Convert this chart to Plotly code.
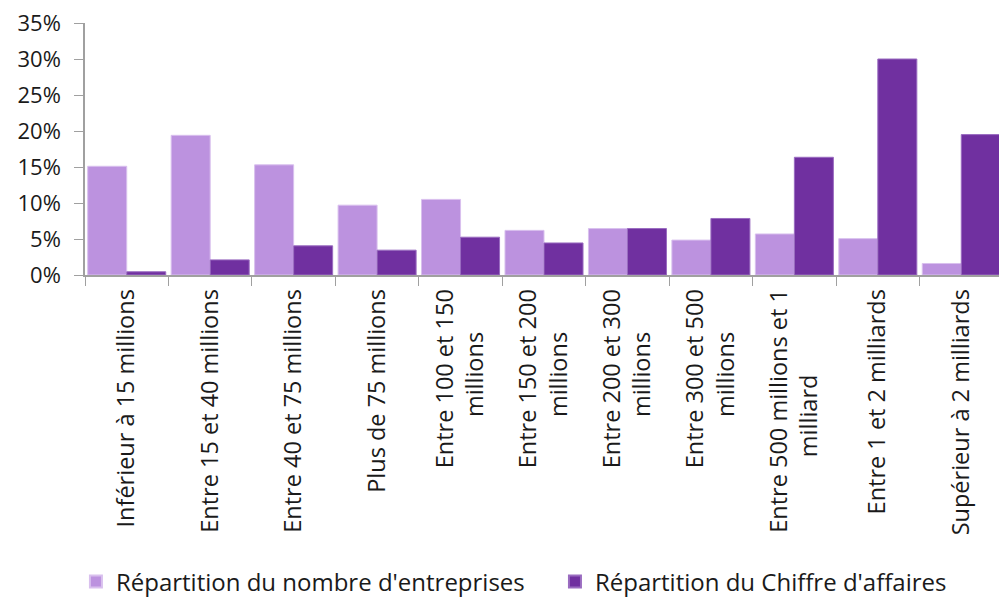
import plotly.graph_objects as go

# category labels; "|" marks the line break of the wrapped labels
categories = [
    "Inférieur à 15 millions",
    "Entre 15 et 40 millions",
    "Entre 40 et 75 millions",
    "Plus de 75 millions",
    "Entre 100 et 150|millions",
    "Entre 150 et 200|millions",
    "Entre 200 et 300|millions",
    "Entre 300 et 500|millions",
    "Entre 500 millions et 1|milliard",
    "Entre 1 et 2 milliards",
    "Supérieur à 2 milliards",
]
nb_entreprises = [15.1, 19.4, 15.3, 9.7, 10.5, 6.2, 6.45, 4.85, 5.7, 5.05, 1.6]
chiffre_affaires = [0.45, 2.1, 4.05, 3.45, 5.25, 4.45, 6.45, 7.85, 16.35, 30.0, 19.5]
y_ticks = [0, 5, 10, 15, 20, 25, 30, 35]
y_labels = [f"{v}%" for v in y_ticks]


def tick_label(label):
    """Wrap a label; centre the second line under the first (rotated text is end-anchored)."""
    parts = label.split("|")
    if len(parts) == 1:
        return label
    first, second = parts
    pad = round((len(first) - len(second)) * 0.9)
    return first + "<br>" + second + "\u00a0" * pad


tick_text = [tick_label(c) for c in categories]

FONT = "Open Sans"
TXT = "#1a1a1a"
fig = go.Figure()
fig.add_trace(go.Bar(
    x=list(range(len(categories))), y=nb_entreprises,
    name="Répartition du nombre d'entreprises", legend="legend",
    marker=dict(color="#BC92DF", line=dict(color="#D9C0EE", width=1)),
))
fig.add_trace(go.Bar(
    x=list(range(len(categories))), y=chiffre_affaires,
    name="Répartition du Chiffre d'affaires", legend="legend2",
    marker=dict(color="#7030A0", line=dict(color="#9A6CC0", width=1)),
))

legend_style = dict(orientation="h", xref="container", yref="container",
                    xanchor="left", y=0.0255, yanchor="middle",
                    font=dict(family=FONT, size=24, color=TXT),
                    itemsizing="constant", itemwidth=30)

# the page body adds an 8px offset, so the figure is 8px smaller and margins are shifted
fig.update_layout(
    width=999, height=589,
    margin=dict(l=77, r=4, t=15, b=322),
    paper_bgcolor="white", plot_bgcolor="white",
    barmode="group", bargap=0.065, bargroupgap=0,
    font=dict(family=FONT, size=22, color=TXT),
    showlegend=True,
    legend=dict(x=0.068, **legend_style),
    legend2=dict(x=0.5475, **legend_style),
)
fig.update_xaxes(
    type="category", automargin=False,
    tickmode="array", tickvals=list(range(len(categories))), ticktext=tick_text,
    tickangle=-90, tickson="boundaries", ticks="outside", ticklen=9,
    ticklabelstandoff=3,
    tickcolor="#A0A0A0", showline=True, linecolor="#A0A0A0", linewidth=1.5,
    showgrid=False, tickfont=dict(family=FONT, size=23.5, color=TXT),
    range=[-0.5, len(categories) - 0.5],
)
fig.update_yaxes(
    automargin=False, ticklabeloverflow="allow",
    range=[0, 35], tickmode="array", tickvals=y_ticks, ticktext=y_labels,
    ticks="outside", ticklen=9, ticklabelstandoff=9, tickcolor="#A0A0A0",
    showline=True, linecolor="#A0A0A0", linewidth=1.5,
    showgrid=False, zeroline=False,
    tickfont=dict(family=FONT, size=22, color=TXT),
)

fig.write_html("out.html")
